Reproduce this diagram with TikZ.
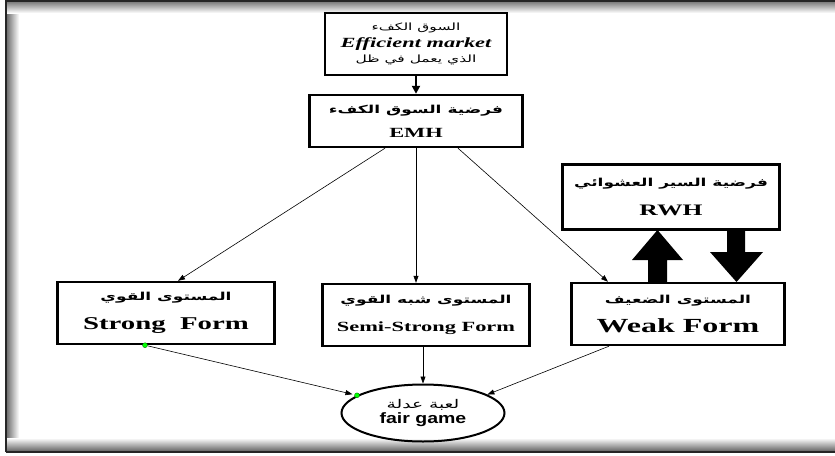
\documentclass[tikz,border=0pt]{standalone}
\usepackage{fontspec}
\TeXXeTstate=1
\newfontfamily\arabicfont[Script=Arabic,FakeStretch=1.55]{DejaVu Sans}
\newfontfamily\serifwide[FakeStretch=1.6]{Liberation Serif}
\newfontfamily\gamefont[FakeStretch=1.3]{Liberation Sans}
\usetikzlibrary{positioning, arrows.meta, shapes.geometric}
\newcommand{\arsize}[1]{\fontsize{#1}{#1}\arabicfont\bfseries}
\newcommand{\entext}[2]{{\fontsize{#1}{#1}\serifwide\bfseries #2}}

\begin{document}
\begin{tikzpicture}[x=1pt,y=-1pt,
    formbox/.style={draw,line width=2.4pt,align=center,inner sep=0pt},
    link/.style={-{Triangle[length=7pt,width=5pt]},line width=0.6pt},
    greendot/.style={circle,fill=green,draw=green!40!black,line width=0.3pt,inner sep=0pt,minimum size=5pt}]
    \useasboundingbox (0,0) rectangle (835,455);
    % frame
    \shade[left color=black!55,right color=white] (7,2) rectangle (19,451);
    \shade[top color=black!50,bottom color=white] (7,2) rectangle (835,13);
    \shade[bottom color=black!60,top color=white] (7,438) rectangle (835,451);
    \draw[line width=1.6pt,black!85] (6,452) -- (6,1) -- (835,1);
    \draw[line width=1.6pt,black!85] (6,452) -- (835,452);

    \node[formbox,minimum width=182pt,minimum height=62pt] (efficient) at (416,44)
        {{\fontsize{10}{10}\arabicfont\beginR السوق الكفء\endR}\\[3pt]{\fontsize{14}{14}\serifwide\bfseries\itshape Efficient market}\\[3pt]{\fontsize{10}{10}\arabicfont\beginR الذي يعمل في ظل\endR}};
    \node[formbox,minimum width=213pt,minimum height=52pt] (emh) at (416,121)
        {{\arsize{11}\beginR فرضية السوق الكفء\endR}\\[12pt]\entext{14}{EMH}};
    \node[formbox,minimum width=217pt,minimum height=65pt] (rwh) at (671,197)
        {{\arsize{11}\beginR فرضية السير العشوائي\endR}\\[14pt]\entext{16}{RWH}};
    \node[formbox,minimum width=217pt,minimum height=62pt] (strong) at (166,313)
        {{\arsize{11}\beginR المستوى القوي\endR}\\[14pt]\entext{18}{Strong\ \ Form}};
    \node[formbox,minimum width=207pt,minimum height=62pt] (semi) at (426,315)
        {{\arsize{11}\beginR المستوى شبه القوي\endR}\\[14pt]\entext{14}{Semi-Strong Form}};
    \node[formbox,minimum width=213pt,minimum height=62pt] (weak) at (678,314)
        {{\arsize{11}\beginR المستوى الضعيف\endR}\\[12pt]\entext{20}{Weak Form}};
    \node[ellipse,draw,line width=2pt,minimum width=163pt,minimum height=57pt,align=center,inner sep=0pt] (game) at (423,413)
        {{\fontsize{12}{12}\arabicfont\beginR لعبة عدلة\endR}\\[1pt]{\fontsize{15}{15}\gamefont\bfseries fair game}};

    \draw[-{Triangle[length=8pt,width=8pt]},line width=2pt] (efficient) -- (emh);
    \draw[link] ([xshift=-31pt]emh.south) -- ([xshift=12pt]strong.north);
    \draw[link] (emh.south) -- (emh.south |- semi.north);
    \draw[link] ([xshift=42pt]emh.south) -- ([xshift=-70pt]weak.north);

    % big arrows between RWH and weak form
    \fill (648,283) -- (648,260) -- (632,260) -- (657.5,230) -- (683,260) -- (667,260) -- (667,283) -- cycle;
    \fill (727,230) -- (727,252) -- (710,252) -- (736.5,282) -- (763,252) -- (745,252) -- (745,230) -- cycle;

    \node[greendot,xshift=-21pt] (sdot) at (strong.south) {};
    \node[greendot] (gdot) at (game.165) {};
    \draw[link,shorten >=2pt] (sdot) -- (gdot);
    \draw[link] (semi.south -| game.north) -- (game.north);
    \draw[link] (weak.205) -- (game.16);
\end{tikzpicture}
\end{document}
